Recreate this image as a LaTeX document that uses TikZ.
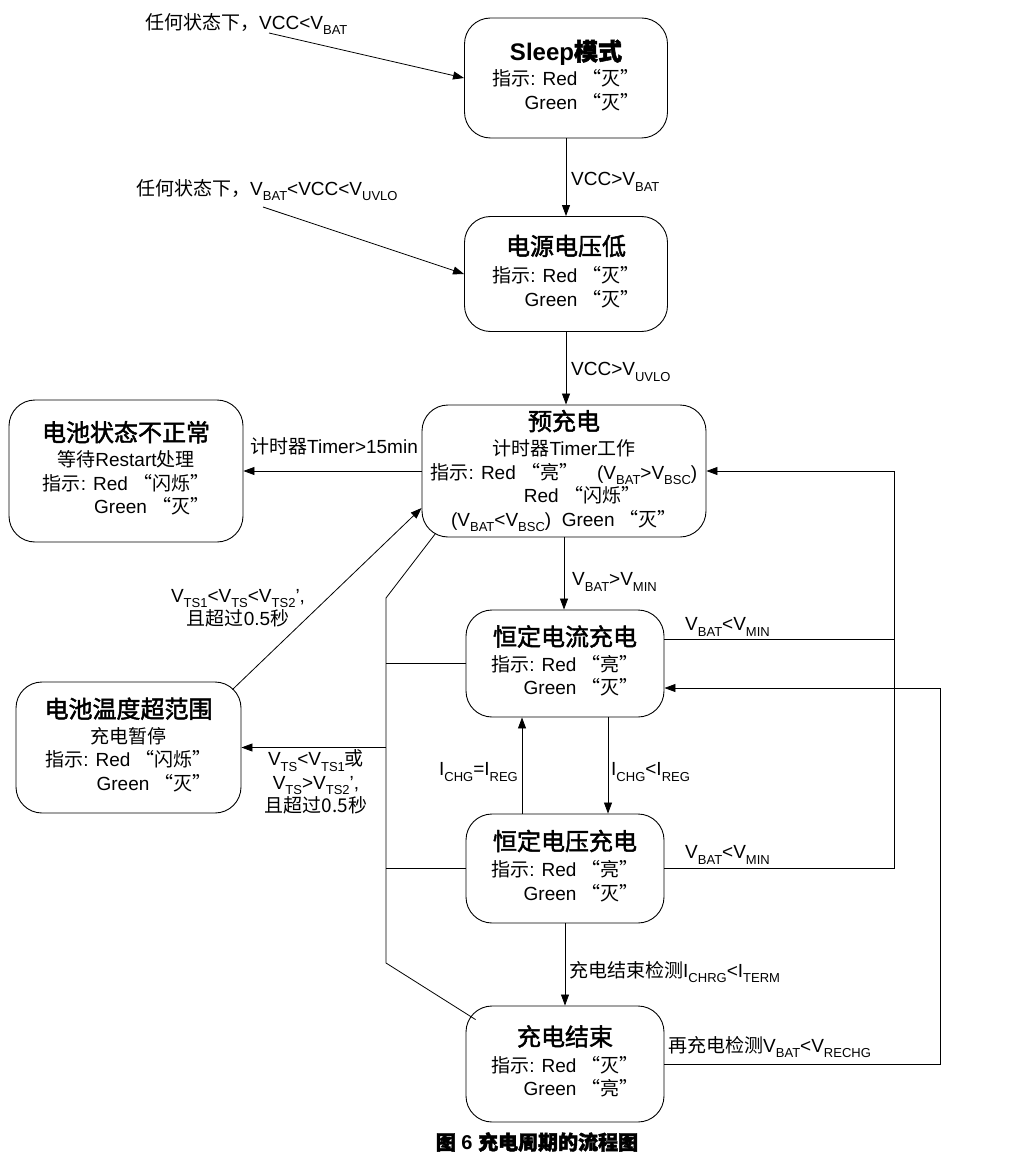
\documentclass[tikz,border=0pt]{standalone}
\usepackage{fontspec}
\setmainfont{Liberation Sans}
\newfontfamily\cjk{Noto Sans CJK SC}
\newfontfamily\cjkb[FakeBold=2]{Noto Sans CJK SC}
\usetikzlibrary{arrows.meta,calc}
\newcommand\zh[1]{{\cjk #1}}
\newcommand\zhb[1]{{\cjkb #1}}
\newcommand\subx[1]{\raisebox{-0.3em}{\fontsize{13}{13}\selectfont #1}}
\newcommand\txtfont{\fontsize{19}{23.5}\selectfont}
\newcommand\ttlfont{\fontsize{24}{28}\selectfont}
\newcommand\ttl[1]{{\ttlfont #1}}
\newcommand\rl[2]{\begin{tabular}[t]{@{}r@{}}#1\\#2\end{tabular}}
\tikzset{
  state/.style={draw, line width=0.9pt, rounded corners=26pt, inner sep=0pt, align=center, font=\txtfont},
  lab/.style={inner sep=0pt, font=\txtfont},
  conn/.style={line width=0.8pt},
  arr/.style={conn, -{Triangle[length=11pt,width=8pt]}}
}
\begin{document}
\begin{tikzpicture}[x=1pt,y=-1pt]
\useasboundingbox (0,0) rectangle (1019,1155);
\fill[white] (0,0) rectangle (1019,1155);

% state boxes
\node[state, minimum width=203, minimum height=120] (sleep) at (566,78)
  {\ttl{\bfseries Sleep\zhb{模式}}\\[2pt]\rl{\zh{指示}: Red \zh{“灭”}}{Green \zh{“灭”}}};
\node[state, minimum width=203, minimum height=115] (power) at (566,274)
  {\ttl{\zhb{电源电压低}}\\[4pt]\rl{\zh{指示}: Red \zh{“灭”}}{Green \zh{“灭”}}};
\node[state, minimum width=284, minimum height=132] (pre) at (564,471)
  {\ttl{\zhb{预充电}}\\[2pt]
   \zh{计时器}Timer\zh{工作}\\
   \zh{指示}: Red \zh{“亮”}\quad(V\subx{BAT}>V\subx{BSC})\\
   \hspace*{36pt}Red \zh{“闪烁”}\\
   (V\subx{BAT}<V\subx{BSC})\ \ Green \zh{“灭”}};
\node[state, minimum width=234, minimum height=142] (bad) at (126,471)
  {\ttl{\zhb{电池状态不正常}}\\[2pt]\zh{等待}Restart\zh{处理}\\\rl{\zh{指示}: Red \zh{“闪烁”}}{Green \zh{“灭”}}};
\node[state, minimum width=198, minimum height=107] (cc) at (565,663.5)
  {\ttl{\zhb{恒定电流充电}}\\[2pt]\rl{\zh{指示}: Red \zh{“亮”}}{Green \zh{“灭”}}};
\node[state, minimum width=225, minimum height=131] (temp) at (128.5,747.5)
  {\ttl{\zhb{电池温度超范围}}\\[2pt]\zh{充电暂停}\\\rl{\zh{指示}: Red \zh{“闪烁”}}{Green \zh{“灭”}}};
\node[state, minimum width=198, minimum height=109] (cv) at (565,868.5)
  {\ttl{\zhb{恒定电压充电}}\\[3pt]\rl{\zh{指示}: Red \zh{“亮”}}{Green \zh{“灭”}}};
\node[state, minimum width=198, minimum height=116] (end) at (565,1064)
  {\ttl{\zhb{充电结束}}\\[3pt]\rl{\zh{指示}: Red \zh{“灭”}}{Green \zh{“亮”}}};

% free labels with arrows
\node[lab, anchor=west] (any1) at (145,24) {\zh{任何状态下，}VCC<V\subx{BAT}};
\coordinate (any1s) at (269,33);
\draw[arr] (any1s) -- (sleep.west);
\node[lab, anchor=west] (any2) at (136,190) {\zh{任何状态下，}V\subx{BAT}<VCC<V\subx{UVLO}};
\coordinate (any2s) at (263,207);
\draw[arr] (any2s) -- (power.west);

% main chain
\draw[arr] (sleep.south) -- (power.north);
\node[lab, anchor=west] (l1) at (571,182) {VCC>V\subx{BAT}};
\draw[arr] (power.south) -- (power.south |- pre.north);
\node[lab, anchor=west] (l2) at (571,372) {VCC>V\subx{UVLO}};
\draw[arr] (pre.west) -- (bad.east);
\node[lab] (l3) at (334,446) {\zh{计时器}Timer>15min};
\draw[arr] (pre.south) -- (pre.south |- cc.north);
\node[lab, anchor=west] (l4) at (572,582) {V\subx{BAT}>V\subx{MIN}};
\draw[arr] ($(cc.south)+(43,0)$) -- ($(cv.north)+(43,0)$);
\node[lab, anchor=west] (l5) at (611,772) {I\subx{CHG}<I\subx{REG}};
\draw[arr] ($(cv.north)+(-43,0)$) -- ($(cc.south)+(-43,0)$);
\node[lab, anchor=east] (l6) at (518,772) {I\subx{CHG}=I\subx{REG}};
\draw[arr] (cv.south) -- (end.north);
\node[lab, anchor=west] (l7) at (569,972) {\zh{充电结束检测}I\subx{CHRG}<I\subx{TERM}};

% right side returns
\coordinate (rTop) at (894,471);
\coordinate (ccR) at ($(cc.east)+(0,-24.5)$);
\coordinate (ccR2) at ($(cc.east)+(0,24.5)$);
\coordinate (rr) at (940,688);
\draw[conn] (ccR) -- (ccR -| rTop);
\draw[arr] (cv.east) -| (rTop) -- (pre.east);
\node[lab, anchor=west] (l8) at (685,627) {V\subx{BAT}<V\subx{MIN}};
\node[lab, anchor=west] (l9) at (685,855) {V\subx{BAT}<V\subx{MIN}};
\draw[arr] (end.east) -| (rr) -- (ccR2);
\node[lab, anchor=west] (l10) at (668,1047) {\zh{再充电检测}V\subx{BAT}<V\subx{RECHG}};

% left bus (temperature)
\coordinate (lTop) at (386,598);
\coordinate (lBot) at (386,963);
\draw[conn] ($(pre.south west)+(14,-4)$) -- (lTop) -- (lBot) -- ($(end.north west)+(10,14)$);
\draw[conn] (cc.west) -- (cc.west -| lTop);
\draw[conn] (cv.west) -- (cv.west -| lTop);
\draw[arr] (temp.east -| lTop) -- (temp.east);
\node[lab, align=center] (l11) at (316,782)
  {V\subx{TS}<V\subx{TS1}\zh{或}\\V\subx{TS}>V\subx{TS2}’,\\\zh{且超过0.5秒}};
\draw[arr] ($(temp.north east)+(-9,8)$) -- ($(pre.west)+(0,37)$);
\node[lab, align=center] (l12) at (238,608)
  {V\subx{TS1}<V\subx{TS}<V\subx{TS2}’,\\\zh{且超过}0.5\zh{秒}};

% caption
\node[inner sep=0pt, font=\fontsize{20}{24}\selectfont\bfseries] (cap) at (537,1142)
  {\zhb{图} 6 \zhb{充电周期的流程图}};
\end{tikzpicture}
\end{document}
